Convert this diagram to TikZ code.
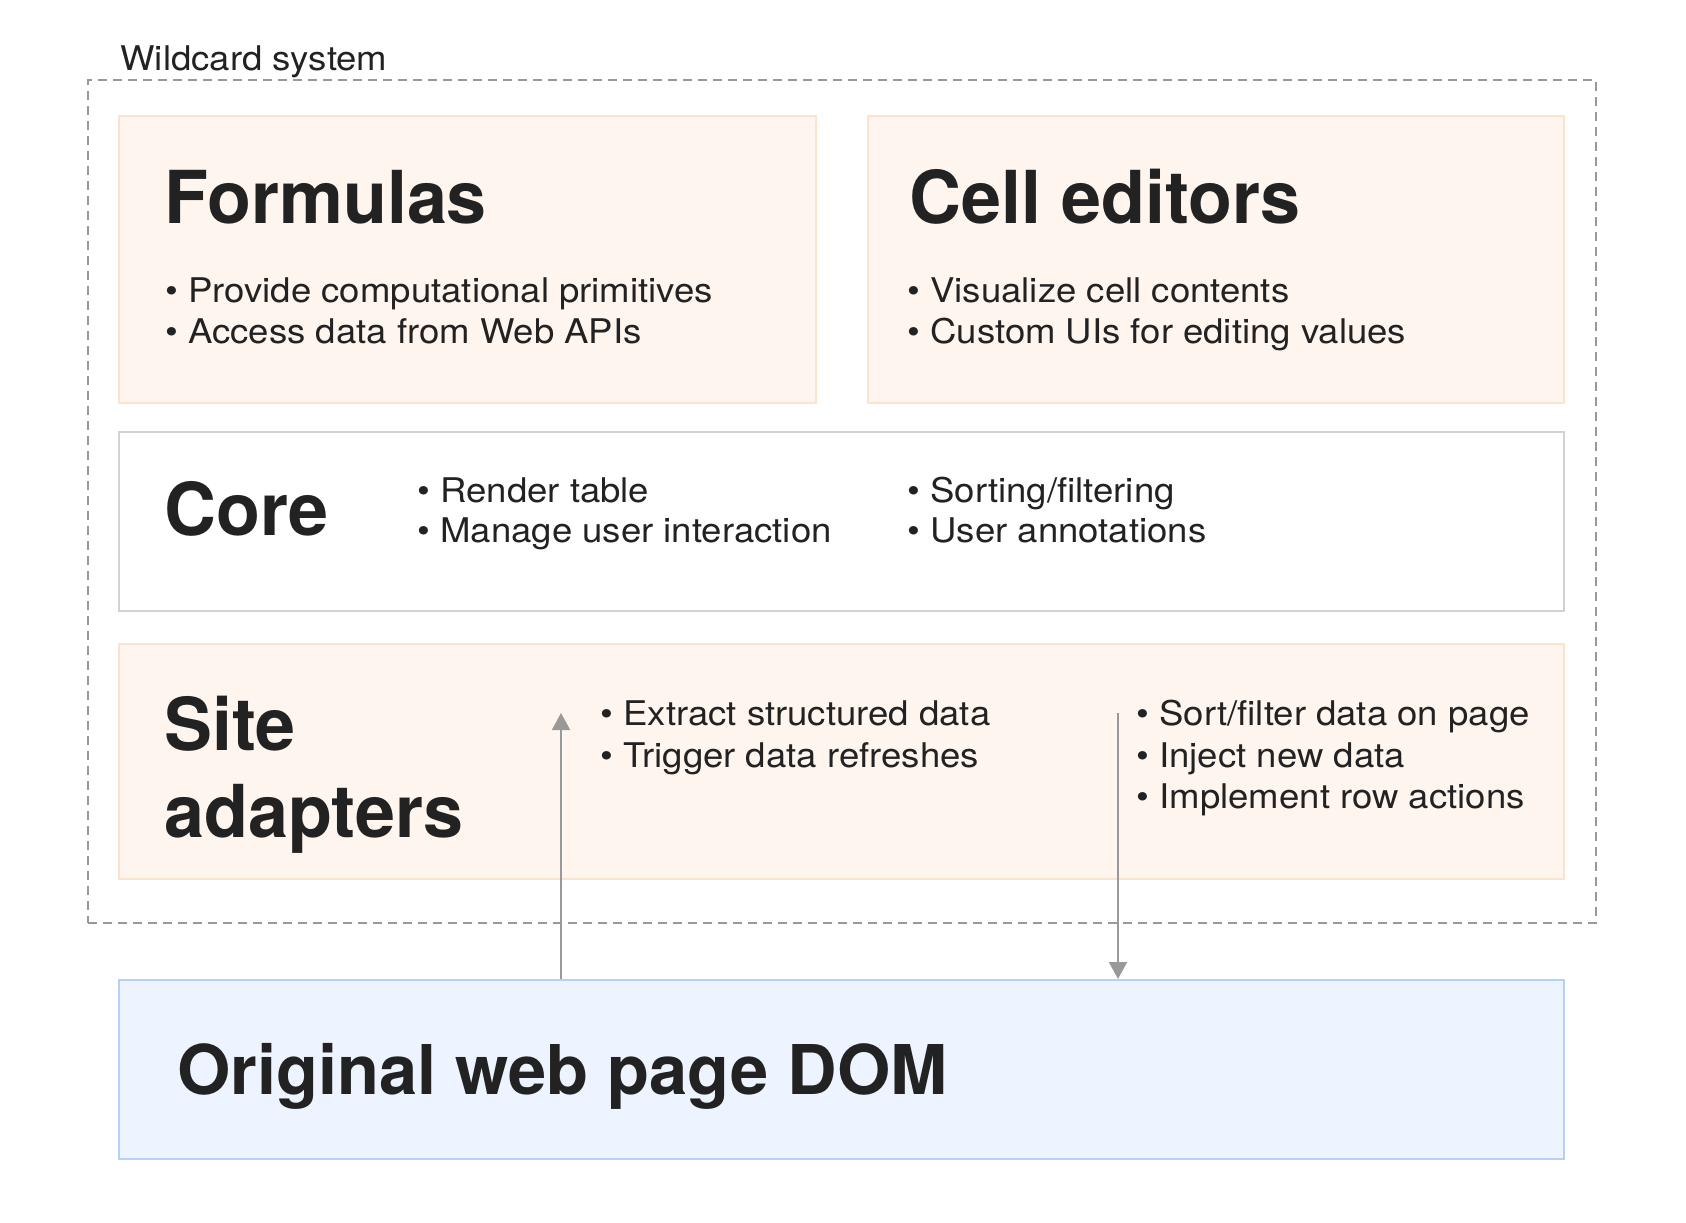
\documentclass[tikz,border=0pt]{standalone}
\usepackage{fontspec}
\setmainfont{TeX Gyre Heros}
\newfontfamily\bodyfont{TeX Gyre Heros}[FakeStretch=1.075]
\newfontfamily\headfont{TeX Gyre Heros}[FakeStretch=0.985]
\usetikzlibrary{arrows.meta}

\definecolor{ink}{HTML}{222222}
\definecolor{peach}{HTML}{FEF5EF}
\definecolor{peachline}{HTML}{FBE3CD}
\definecolor{coreline}{HTML}{D2D2D2}
\definecolor{domfill}{HTML}{EDF4FF}
\definecolor{domline}{HTML}{B5D1FA}
\definecolor{wire}{HTML}{999999}

\tikzset{
  layer/.style={draw=peachline, fill=peach, line width=1pt, inner sep=0pt},
  corelayer/.style={draw=coreline, fill=white, line width=1pt, inner sep=0pt},
  domlayer/.style={draw=domline, fill=domfill, line width=1pt, inner sep=0pt},
  title/.style={anchor=base west, inner sep=0pt, text=ink, font=\headfont\fontsize{36.5}{40}\selectfont\bfseries},
  item/.style={anchor=base west, inner sep=0pt, text=ink, font=\bodyfont\fontsize{17}{20}\selectfont},
  flow/.style={draw=wire, line width=1pt, -{Triangle[width=9pt,length=8.5pt]}}
}

\begin{document}
\begin{tikzpicture}[x=0.5pt, y=-0.5pt]
% Set the page to the pixel grid of the original
\useasboundingbox (0,0) rectangle (1686,1222);

% Outer wildcard frame
\node[draw=wire, line width=1pt, dash pattern=on 4.5pt off 3pt, minimum width=754pt, minimum height=421.5pt, inner sep=0pt] (frame) at (842,501.5) {};
\node[item] (framelabel) at (120,70) {Wildcard system};

% Draw the layers
\node[layer, minimum width=348.5pt, minimum height=143.5pt] (formulas) at (467.5,259.5) {};
\node[layer, minimum width=348pt, minimum height=143.5pt] (editors) at (1216,259.5) {};
\node[corelayer, minimum width=722.5pt, minimum height=89.5pt] (core) at (841.5,521.5) {};
\node[layer, minimum width=722.5pt, minimum height=117.5pt] (adapters) at (841.5,761.5) {};
\node[domlayer, minimum width=722.5pt, minimum height=89.5pt] (dom) at (841.5,1069.5) {};

% Formulas
\node[title] (formulastitle) at (164,223) {Formulas};
\node[item] (formulasa) at (165,302) {• Provide computational primitives};
\node[item] (formulasb) at (165,343) {• Access data from Web APIs};

% Cell editors
\node[title] (editorstitle) at (909,223) {Cell editors};
\node[item] (editorsa) at (907,302) {• Visualize cell contents};
\node[item] (editorsb) at (907,343) {• Custom UIs for editing values};

% Core
\node[title] (coretitle) at (164,535) {Core};
\node[item] (corea) at (417,502) {• Render table};
\node[item] (coreb) at (417,542) {• Manage user interaction};
\node[item] (corec) at (907,502) {• Sorting/filtering};
\node[item] (cored) at (907,542) {• User annotations};

% Site adapters
\node[title] (adapterstitle) at (164,750) {Site};
\node[title] (adapterstitleb) at (164,837) {adapters};
\node[item] (adaptersa) at (600,725) {• Extract structured data};
\node[item] (adaptersb) at (600,767) {• Trigger data refreshes};
\node[item] (adaptersc) at (1136,725) {• Sort/filter data on page};
\node[item] (adaptersd) at (1136,767) {• Inject new data};
\node[item] (adapterse) at (1136,808) {• Implement row actions};

% Original page
\node[title, font=\fontsize{34.3}{38}\selectfont\bfseries] (domtitle) at (177,1094) {Original web page DOM};

% Arrows between page and adapters
\coordinate (extract) at (561,713);
\coordinate (inject) at (1118,713);
\draw[flow] (extract |- dom.north) -- (extract);
\draw[flow] (inject) -- (inject |- dom.north);
\end{tikzpicture}
\end{document}
